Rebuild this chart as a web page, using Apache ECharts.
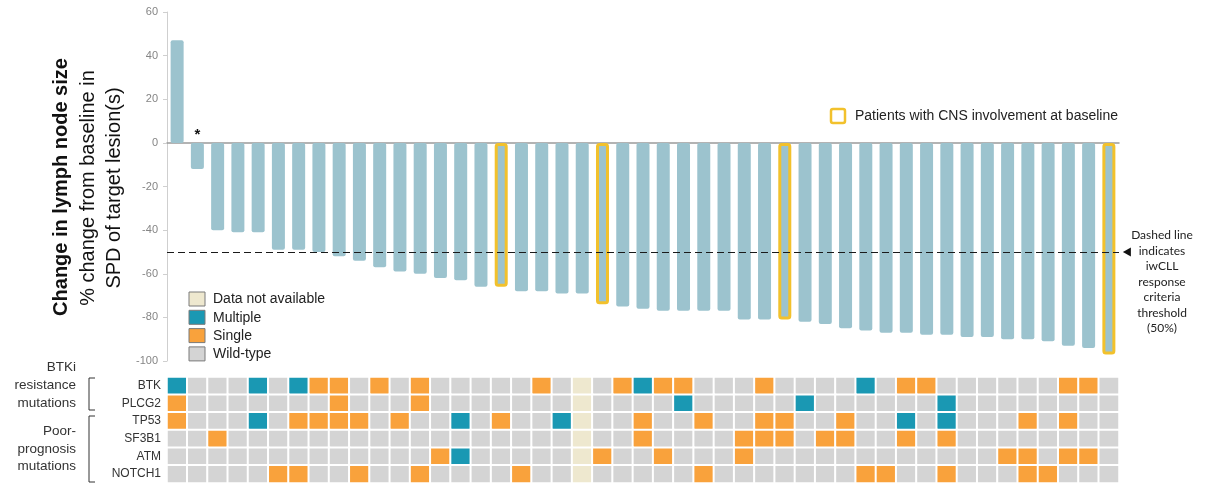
<!DOCTYPE html>
<html>
<head>
<meta charset="utf-8">
<script src="https://cdn.jsdelivr.net/npm/echarts@6/dist/echarts.min.js"></script>
<style>
  html, body { margin: 0; padding: 0; background: #fff; }
  #chart { width: 1209px; height: 485px; }
</style>
</head>
<body>
<div id="chart"></div>
<script>
// Best % change from baseline in SPD, one value per patient (sorted waterfall)
const changePct = [
  47, -12, -40, -41, -41, -49, -49, -50, -52, -54,
  -57, -59, -60, -62, -63, -66, -66, -68, -68, -69,
  -69, -74, -75, -76, -77, -77, -77, -77, -81, -81,
  -81, -82, -83, -85, -86, -87, -87, -88, -88, -89,
  -89, -90, -90, -91, -93, -94, -97
];
const patients = changePct.map((_, i) => 'Pt ' + (i + 1));

// Patients with CNS involvement at baseline (0-based positions)
const cnsPatients = [16, 21, 30, 46];
// Patients flagged with a footnote asterisk
const asteriskPatients = [1];

// Y axis
const yMin = -100, yMax = 60, yStep = 20;
const threshold = -50;

// Mutation status per gene, one character per patient:
// '.' wild-type, 's' single, 'm' multiple, 'n' data not available
const genes = ['BTK', 'PLCG2', 'TP53', 'SF3B1', 'ATM', 'NOTCH1'];
const BTK    = 'm...m.mss.' + 's.s.....s.' + 'n.smss...s' + '....m.ss..' + '....ss.';
const PLCG2  = 's.......s.' + '..s.......' + 'n....m....' + '.m......m.' + '.......';
const TP53   = 's...m.ssss' + '.s..m.s..m' + 'n..s..s..s' + 's..s..m.m.' + '..s.s..';
const SF3B1  = '..s.......' + '..........' + 'n..s....ss' + 's.ss..s.s.' + '.......';
const ATM    = '..........' + '...sm.....' + 'ns..s...s.' + '..........' + '.ss.ss.';
const NOTCH1 = '.....ss..s' + '..s....s..' + 'n.....s...' + '....ss..s.' + '..ss...';
const statusRows = [BTK, PLCG2, TP53, SF3B1, ATM, NOTCH1];

// Status codes, legend labels and colours
const statusCodes  = { '.': 0, 's': 1, 'm': 2, 'n': 3 };
const statusLabels = ['Wild-type', 'Single', 'Multiple', 'Data not available'];
const statusColors = ['#d4d4d4', '#f9a23c', '#1a98b3', '#eee8cf'];
const legendOrder  = [3, 2, 1, 0];

const BAR = '#9cc3ce';
const GOLD = '#f2c12c';

const barData = changePct.map((v, i) => {
  const item = { value: v };
  if (cnsPatients.includes(i)) {
    item.itemStyle = { borderColor: GOLD, borderWidth: 3 };
  }
  return item;
});

const heatData = [];
statusRows.forEach((row, r) => {
  row.split('').forEach((ch, c) => heatData.push([c, r, statusCodes[ch]]));
});

const chart = echarts.init(document.getElementById('chart'), null, { renderer: 'canvas' });

const GL = 167, GW = 952;
const FONT = '"Liberation Sans", Arial, sans-serif';

// Mutation legend (swatches with outline)
const legendGraphics = [];
legendOrder.forEach((s, k) => {
  const y = 292 + k * 18.3;
  legendGraphics.push({
    type: 'rect', shape: { x: 189, y: y, width: 16, height: 14 },
    style: { fill: statusColors[s], stroke: '#7a7a7a', lineWidth: 1 }, z: 10
  });
  legendGraphics.push({
    type: 'text', x: 213, y: y + 7.5,
    style: { text: statusLabels[s], font: '14px ' + FONT, fill: '#222', verticalAlign: 'middle' }, z: 10
  });
});

chart.setOption({
  animation: false,
  grid: [
    { left: GL, top: 12, width: GW, height: 349 },
    { left: GL, top: 377, width: GW, height: 106 }
  ],
  xAxis: [
    {
      type: 'category', gridIndex: 0, data: patients,
      axisLine: { show: true, onZero: true, lineStyle: { color: '#9a9a9a', width: 1.5 } },
      axisTick: { show: false }, axisLabel: { show: false }
    },
    {
      type: 'category', gridIndex: 1, data: patients,
      axisLine: { show: false }, axisTick: { show: false }, axisLabel: { show: false }
    }
  ],
  yAxis: [
    {
      type: 'value', gridIndex: 0, min: yMin, max: yMax, interval: yStep,
      axisLine: { show: true, lineStyle: { color: '#cfcfcf' } },
      axisTick: { show: true, length: 4, lineStyle: { color: '#cfcfcf' } },
      splitLine: { show: false },
      axisLabel: { color: '#858585', fontSize: 11, fontFamily: FONT, margin: 9 }
    },
    {
      type: 'category', gridIndex: 1, data: genes, inverse: true,
      axisLine: { show: false }, axisTick: { show: false },
      axisLabel: { color: '#333', fontSize: 12, fontFamily: FONT, margin: 6 }
    }
  ],
  visualMap: {
    type: 'piecewise', show: false, dimension: 2, seriesIndex: 1,
    pieces: statusColors.map((c, i) => ({ value: i, color: c }))
  },
  series: [
    {
      type: 'bar', xAxisIndex: 0, yAxisIndex: 0,
      data: barData,
      barWidth: 13,
      itemStyle: { color: BAR, borderRadius: 2 },
      silent: true,
      markLine: {
        silent: true, symbol: 'none',
        lineStyle: { color: '#1a1a1a', type: [7, 4], width: 1.2 },
        label: { show: false },
        data: [{ yAxis: threshold }]
      },
      markPoint: {
        silent: true,
        data: [
          {
            coord: [patients[patients.length - 1], threshold],
            symbol: 'triangle', symbolSize: [9, 8], symbolRotate: 90,
            symbolOffset: [18, 0],
            itemStyle: { color: '#111' }, label: { show: false }
          }
        ].concat(asteriskPatients.map(i => ({
          coord: [patients[i], 0], symbol: 'circle', symbolSize: 0,
          label: { show: true, position: 'top', distance: 1, formatter: '*',
                   color: '#111', fontSize: 15, fontWeight: 'bold', fontFamily: FONT }
        })))
      }
    },
    {
      type: 'heatmap', xAxisIndex: 1, yAxisIndex: 1,
      data: heatData,
      itemStyle: { borderColor: '#fff', borderWidth: 2 },
      emphasis: { disabled: true },
      silent: true
    }
  ],
  graphic: [
    // Rotated y-axis titles
    { type: 'text', x: 61, y: 187, rotation: Math.PI / 2,
      style: { text: 'Change in lymph node size', font: 'bold 20px ' + FONT, fill: '#111',
               align: 'center', verticalAlign: 'middle' } },
    { type: 'text', x: 88, y: 188, rotation: Math.PI / 2,
      style: { text: '% change from baseline in', font: '20px ' + FONT, fill: '#111',
               align: 'center', verticalAlign: 'middle' } },
    { type: 'text', x: 114, y: 188, rotation: Math.PI / 2,
      style: { text: 'SPD of target lesion(s)', font: '20px ' + FONT, fill: '#111',
               align: 'center', verticalAlign: 'middle' } },
    // Mutation group labels and brackets
    { type: 'text', x: 76, y: 385,
      style: { text: 'BTKi\nresistance\nmutations', font: '13.5px ' + FONT, fill: '#333',
               align: 'right', verticalAlign: 'middle', lineHeight: 18 } },
    { type: 'text', x: 76, y: 449,
      style: { text: 'Poor-\nprognosis\nmutations', font: '13.5px ' + FONT, fill: '#333',
               align: 'right', verticalAlign: 'middle', lineHeight: 17.5 } },
    { type: 'polyline', shape: { points: [[95, 378], [89, 378], [89, 410], [95, 410]] },
      style: { stroke: '#333', lineWidth: 1, fill: null } },
    { type: 'polyline', shape: { points: [[95, 416], [89, 416], [89, 482], [95, 482]] },
      style: { stroke: '#333', lineWidth: 1, fill: null } },
    // CNS legend
    { type: 'rect', shape: { x: 831, y: 109, width: 14, height: 14, r: 2 },
      style: { fill: '#fff', stroke: GOLD, lineWidth: 2.5 } },
    { type: 'text', x: 855, y: 116,
      style: { text: 'Patients with CNS involvement at baseline', font: '14px ' + FONT,
               fill: '#222', verticalAlign: 'middle' } },
    // Threshold annotation
    { type: 'text', x: 1162, y: 282,
      style: { text: 'Dashed line\nindicates\niwCLL\nresponse\ncriteria\nthreshold\n(50%)',
               font: '12px Lato, "Open Sans", sans-serif', fill: '#222',
               align: 'center', verticalAlign: 'middle', lineHeight: 15.5 } }
  ].concat(legendGraphics)
});
</script>
</body>
</html>
